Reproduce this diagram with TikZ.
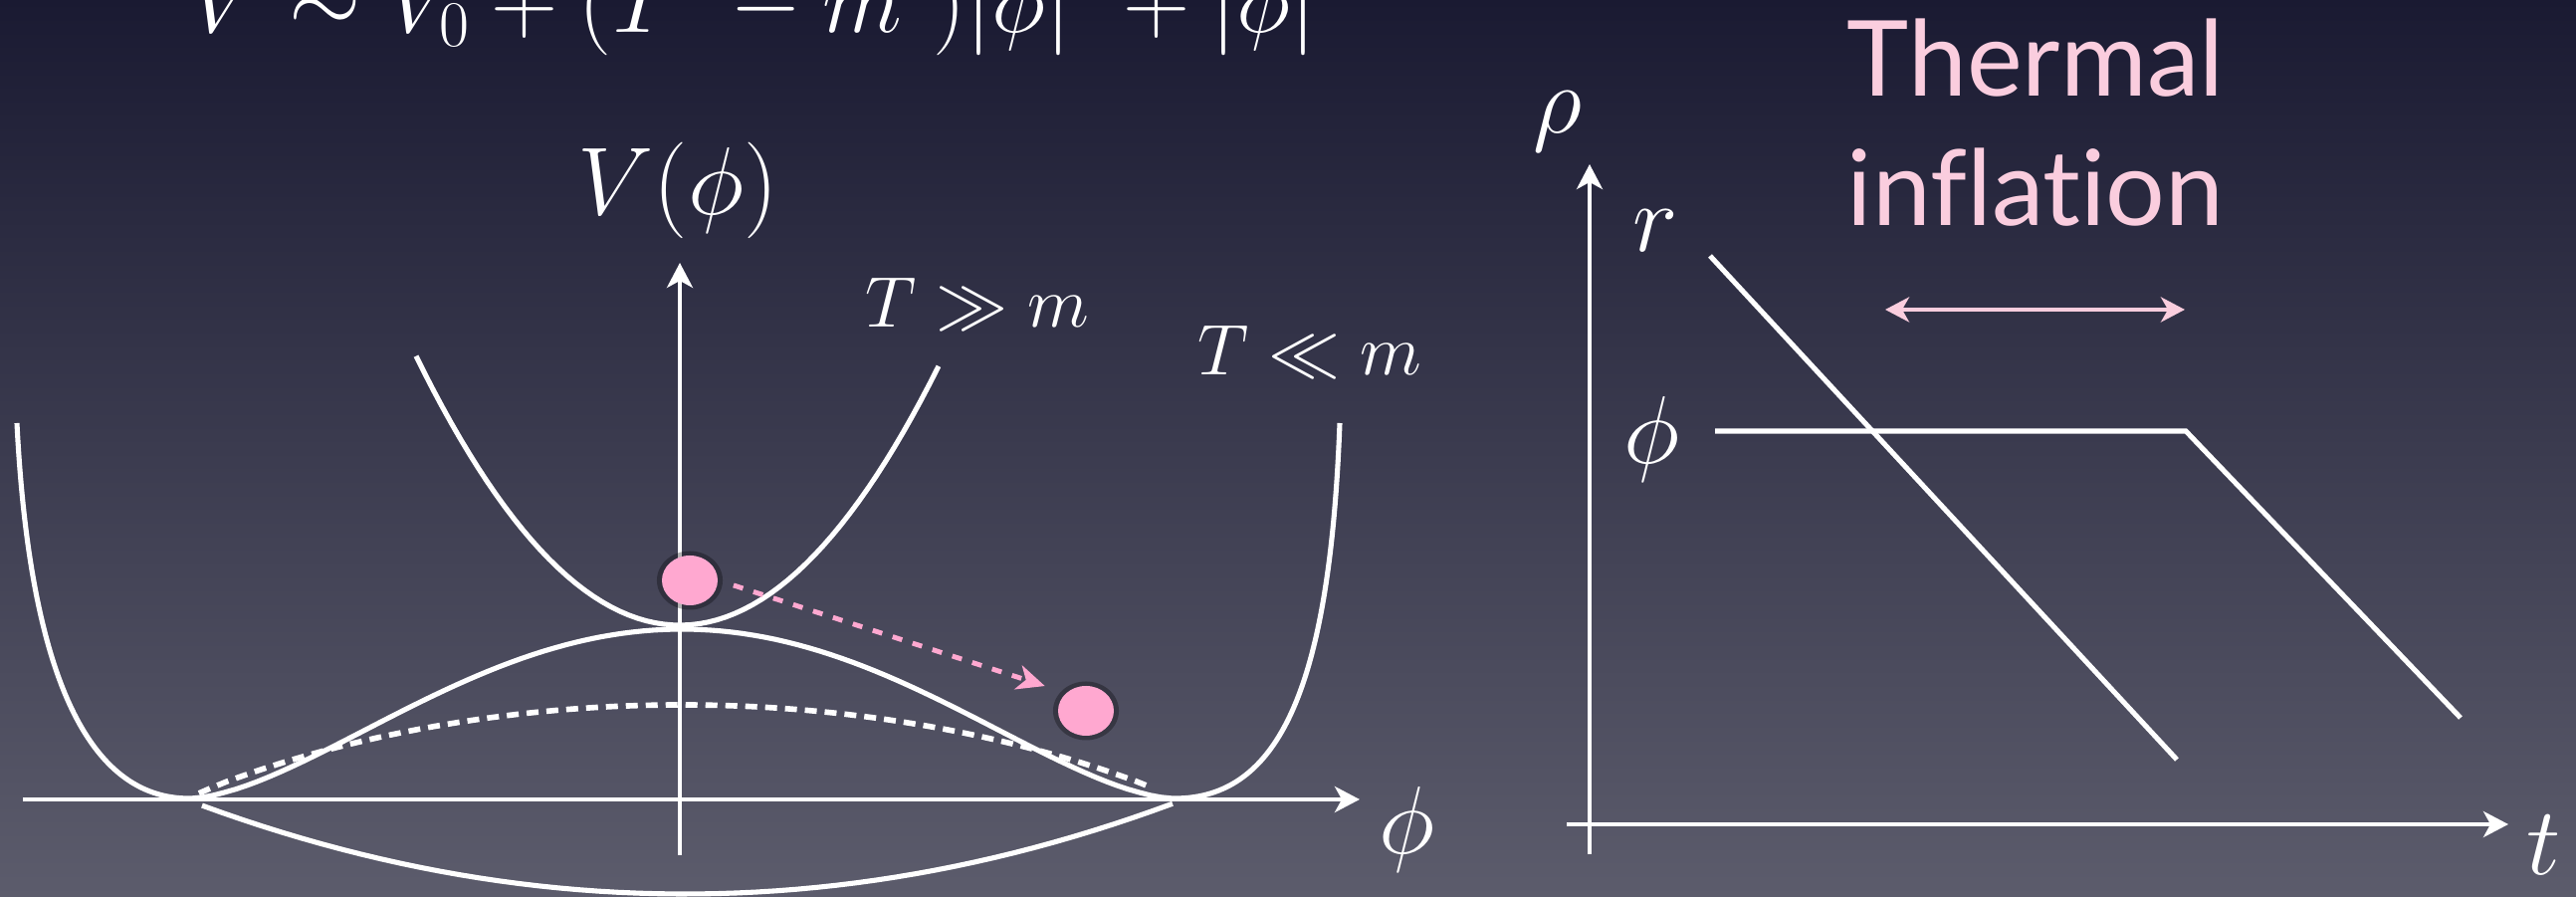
\RequirePackage{fix-cm}
\documentclass[tikz,border=0pt]{standalone}
\usepackage{fontspec}
\newfontfamily\titlefont[Ligatures={NoCommon}]{Lato}
\usetikzlibrary{arrows.meta, shapes.geometric, shadows}
\definecolor{bgtop}{RGB}{26,26,50}
\definecolor{bgbot}{RGB}{92,92,108}
\definecolor{cpink}{RGB}{255,168,208}
\definecolor{clight}{RGB}{250,205,222}
\tikzset{
  axis/.style={draw=white, line width=1.15pt, -{Stealth[length=2.5mm, width=2.6mm, inset=0.7mm]}},
  curve/.style={draw=white, line width=1.45pt},
  dashcurve/.style={draw=white, line width=1.6pt, dash pattern=on 1.2mm off 0.8mm},
  ball/.style={ellipse, fill=cpink, minimum width=5.6mm, minimum height=5mm, inner sep=0pt,
    drop shadow={shadow xshift=0pt, shadow yshift=0pt, shadow scale=1.18, fill=black, opacity=0.3}},
  roll/.style={draw=cpink, line width=1.4pt, dash pattern=on 1mm off 1.1mm,
    -{Stealth[length=2.8mm, width=2.5mm, inset=0.8mm]}, shorten <=1.6mm, shorten >=2.2mm},
  span/.style={draw=clight, line width=1.2pt,
    {Stealth[length=2.4mm, width=2.5mm, inset=0.7mm]}-{Stealth[length=2.4mm, width=2.5mm, inset=0.7mm]}},
  mlabel/.style={text=white, font=\fontsize{27.5}{33}\selectfont, inner sep=0pt},
  slabel/.style={text=white, font=\fontsize{20.5}{25}\selectfont, inner sep=0pt},
  title/.style={text=clight, font=\titlefont\fontsize{30}{36}\selectfont, inner sep=0pt},
}

\begin{document}
\begin{tikzpicture}
  \shade[top color=bgtop, bottom color=bgbot] (0,0) rectangle (25.88,9.01);
  \useasboundingbox (0,0) rectangle (25.88,9.01);
  \clip (0,0) rectangle (25.88,9.01);

  \node[mlabel, anchor=base west, font=\fontsize{26.5}{32}\selectfont] (pot) at (1.90,8.68)
    {$V \sim V_0 + (T^2 - m^2)|\phi|^2 + |\phi|^4$};

  % potential
  \begin{scope}
    \draw[axis] (0.23,0.98) -- (13.66,0.98);
    \draw[axis] (6.83,0.42) -- (6.83,6.37);
    \node[mlabel, anchor=base] (vlab) at (6.81,6.85) {$V(\phi)$};
    \node[mlabel, anchor=base] (philab) at (14.13,0.43) {$\phi$};
    \node[slabel, anchor=base] (hot) at (9.82,5.72) {$T \gg m$};
    \node[slabel, anchor=base] (cold) at (13.16,5.24) {$T \ll m$};
    \draw[curve] plot[domain=-2.65:2.6, samples=60] ({6.83+\x},{2.73+0.385*\x*\x});
    \draw[curve] (0.17,4.76) .. controls (0.30,2.2) and (0.9,0.99) .. (1.90,0.99)
      -- plot[domain=-0.995:0.995, samples=90] ({6.85+4.95*\x},{0.99+1.70*pow(1-\x*\x,1.7)})
      -- (11.80,0.99) .. controls (12.85,0.99) and (13.36,2.1) .. (13.46,4.76);
    \draw[dashcurve] plot[domain=-0.98:0.95, samples=70] ({6.85+4.95*\x},{0.99+0.94*pow(1-\x*\x,0.9)});
    \draw[curve] plot[domain=-4.85:4.9, samples=50] ({6.88+\x},{0.03+0.0378*\x*\x});
    \node[ball] (ballhot) at (6.93,3.18) {};
    \node[ball] (ballcold) at (10.91,1.87) {};
    \draw[roll] (ballhot.east) -- (ballcold.north west);
  \end{scope}

  % energy densities
  \begin{scope}
    \draw[axis] (15.97,0.43) -- (15.97,7.36);
    \draw[axis] (15.74,0.73) -- (25.20,0.73);
    \node[mlabel, anchor=base] (rholab) at (15.65,7.67) {$\rho$};
    \node[mlabel, anchor=base] (rlab) at (16.63,6.48) {$r$};
    \node[mlabel, anchor=base] (flab) at (16.59,4.35) {$\phi$};
    \node[mlabel, anchor=base] (tlab) at (25.56,0.22) {$t$};
    \draw[curve] (17.18,6.44) -- (21.87,1.38);
    \draw[curve] (17.23,4.68) -- (21.96,4.68) -- (24.72,1.80);
    \coordinate (tistart) at (18.94,5.90);
    \coordinate (tiend) at (21.95,5.90);
    \draw[span] (tistart) -- (tiend);
    \node[title, anchor=base] (titletop) at (20.45,8.04) {Thermal};
    \node[title, anchor=base] (titlebot) at (20.45,6.74) {inflation};
  \end{scope}
\end{tikzpicture}
\end{document}
